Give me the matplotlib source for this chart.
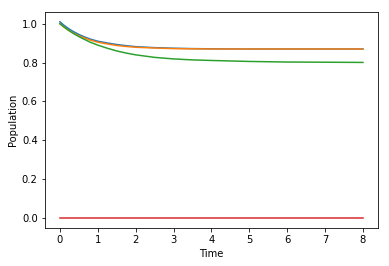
import numpy as np
import matplotlib
matplotlib.use("Agg")
import matplotlib.pyplot as plt

# values
time = [0, 0.1, 0.2, 0.3, 0.4, 0.5, 0.6, 0.8, 1.0, 1.25, 1.5, 1.75, 2.0,
        2.5, 3.0, 3.5, 4.0, 5.0, 6.0, 7.0, 8.0]
pop_a = [1.010, 0.993, 0.979, 0.966, 0.955, 0.945, 0.936, 0.921, 0.910, 0.901,
         0.893, 0.887, 0.882, 0.877, 0.874, 0.872, 0.871, 0.870, 0.870, 0.870, 0.870]
pop_b = [1.000, 0.984, 0.970, 0.958, 0.947, 0.938, 0.930, 0.916, 0.905, 0.896,
         0.888, 0.883, 0.879, 0.875, 0.872, 0.871, 0.870, 0.870, 0.870, 0.870, 0.870]
pop_c = [1.000, 0.985, 0.970, 0.957, 0.945, 0.934, 0.924, 0.905, 0.890, 0.874,
         0.860, 0.849, 0.840, 0.827, 0.819, 0.814, 0.811, 0.806, 0.803, 0.802, 0.801]
pop_d = [0.0] * len(time)

fig = plt.figure(figsize=(389 / 72, 266 / 72), dpi=72)
ax = fig.add_axes([0.115, 0.143, 0.857, 0.812])

ax.plot(time, pop_a)
ax.plot(time, pop_b)
ax.plot(time, pop_c)
ax.plot(time, pop_d)

ax.set_xlabel('Time')
ax.set_ylabel('Population')
ax.set_xticks(range(0, 9))

fig.savefig('out.png', dpi=72)
